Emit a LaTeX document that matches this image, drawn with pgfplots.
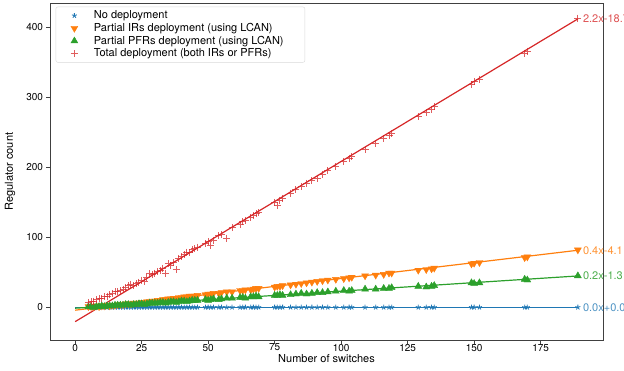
\documentclass[border=0pt]{standalone}
\usepackage{fontspec}
\setmainfont{TeX Gyre Heros}
\usepackage{pgfplots}
\usepackage{pgfplotstable}
\pgfplotsset{compat=1.18}
\definecolor{tabblue}{HTML}{1F77B4}
\definecolor{taborange}{HTML}{FF7F0E}
\definecolor{tabgreen}{HTML}{2CA02C}
\definecolor{tabred}{HTML}{D62728}
\pgfplotstableread{
x red orange green blue
5 7 1 1 0
6 8 1 1 0
7 9 1 0 0
8 11 2 1 0
9 12 1 1 0
10 13 2 2 0
11 15 2 1 0
12 16 3 2 0
13 18 2 2 0
14 20 3 2 0
15 22 3 3 0
16 22 4 3 0
17 24 4 3 0
18 26 4 3 0
19 28 5 4 0
20 31 5 4 0
21 33 5 3 0
22 31 6 4 0
23 34 6 4 0
24 36 6 5 0
25 39 7 5 0
26 37 7 4 0
27 42 8 5 0
28 48 8 6 0
29 47 9 6 0
30 49 9 6 0
31 51 10 6 0
32 52 10 7 0
33 56 11 7 0
34 49 11 6 0
35 62 12 7 0
36 60 12 8 0
37 64 13 8 0
38 54 13 7 0
39 70 14 8 0
40 72 14 9 0
41 75 15 9 0
42 79 15 8 0
43 78 16 9 0
44 82 16 10 0
45 84 16 10 0
46 86 17 10 0
49 91 18 11 0
50 94 19 10 0
51 88 19 11 0
52 96 20 12 0
54 102 20 11 0
55 104 21 12 0
57 99 22 13 0
59 114 22 13 0
62 119 24 14 0
63 122 24 14 0
64 124 25 13 0
66 128 25 15 0
67 131 26 15 0
68 134 27 16 0
69 135 27 15 0
75 150 29 17 0
76 145 30 17 0
77 153 30 18 0
78 155 31 17 0
81 163 32 18 0
83 168 33 19 0
85 172 34 20 0
87 177 35 19 0
89 181 36 20 0
91 184 37 21 0
93 190 38 21 0
95 195 39 22 0
98 201 40 23 0
101 208 41 24 0
103 213 42 23 0
104 215 43 24 0
109 226 45 26 0
113 234 46 26 0
116 241 47 27 0
118 245 49 27 0
119 248 49 28 0
129 272 53 30 0
132 278 54 29 0
134 283 55 30 0
135 287 56 31 0
149 318 62 35 0
150 322 63 34 0
152 326 64 35 0
169 363 71 40 0
170 366 72 39 0
189 413 82 45 0
}\data
\begin{document}
\begin{tikzpicture}
\begin{axis}[
  at={(0,0)}, anchor=south west,
  scale only axis, width=553pt, height=337pt,
  xmin=-9.45, xmax=198.45, ymin=-46.7, ymax=434.7,
  xtick={0,25,...,175}, ytick={0,100,...,400},
  tick align=outside, xtick pos=left, ytick pos=left,
  major tick length=3.5pt,
  axis line style={black!75, line width=0.9pt},
  tick style={black!75, line width=0.8pt},
  ticklabel style={font=\fontsize{10}{12}\selectfont},
  xticklabel style={yshift=3pt},
  /pgf/number format/assume math mode=true,
  xlabel={Number of switches}, ylabel={Regulator count},
  label style={font=\fontsize{11}{13}\selectfont},
  x label style={at={(axis description cs:0.5,-0.0564)}, anchor=center},
  y label style={at={(axis description cs:-0.0723,0.5)}, anchor=center},
  clip=false,
  legend cell align=left,
  legend style={at={(0,1)}, anchor=north west, xshift=5.7pt, yshift=-3.7pt,
    draw=black!15, rounded corners=2pt, font=\fontsize{11}{13}\selectfont,
    inner xsep=15pt, row sep=-1pt,
    /tikz/every odd column/.append style={column sep=14pt}},
]
\addplot[only marks, mark=star, mark size=2.6pt, color=tabblue, line width=0.8pt] table[x=x,y=blue]{\data};
\addlegendentry{No deployment}
\addplot[forget plot, tabblue, line width=1.2pt] coordinates {(0,0) (189,0)};
\addplot[only marks, mark=triangle*, mark size=4pt, mark options={rotate=180}, color=taborange] table[x=x,y=orange]{\data};
\addlegendentry{Partial IRs deployment (using LCAN)}
\addplot[forget plot, taborange, line width=1.2pt] coordinates {(0,-4.1) (189,81.5)};
\addplot[only marks, mark=triangle*, mark size=4pt, color=tabgreen] table[x=x,y=green]{\data};
\addlegendentry{Partial PFRs deployment (using LCAN)}
\addplot[forget plot, tabgreen, line width=1.2pt] coordinates {(0,-1.3) (189,44.8)};
\addplot[only marks, mark=+, mark size=3.5pt, color=tabred, line width=1pt, mark options={draw opacity=0.75}] table[x=x,y=red]{\data};
\addlegendentry{\makebox[194pt][l]{Total deployment (both IRs or PFRs)}}
\addplot[forget plot, tabred, line width=1.2pt] coordinates {(0,-20.5) (189,412)};
\node[anchor=west, inner sep=0pt, xshift=5pt, text=tabred!80, font=\fontsize{11}{13}\selectfont] at (axis cs:189,413) {2.2x-18.7};
\node[anchor=west, inner sep=0pt, xshift=5pt, text=taborange!85, font=\fontsize{11}{13}\selectfont] at (axis cs:189,81.5) {0.4x-4.1};
\node[anchor=west, inner sep=0pt, xshift=5pt, text=tabgreen!85, font=\fontsize{11}{13}\selectfont] at (axis cs:189,44.8) {0.2x-1.3};
\node[anchor=west, inner sep=0pt, xshift=5pt, text=tabblue!80, font=\fontsize{11}{13}\selectfont] at (axis cs:189,0) {0.0x+0.0};
\end{axis}
\pgfresetboundingbox
\path[use as bounding box] (-50pt,-30pt) rectangle (574pt,340pt);
\end{tikzpicture}
\end{document}
